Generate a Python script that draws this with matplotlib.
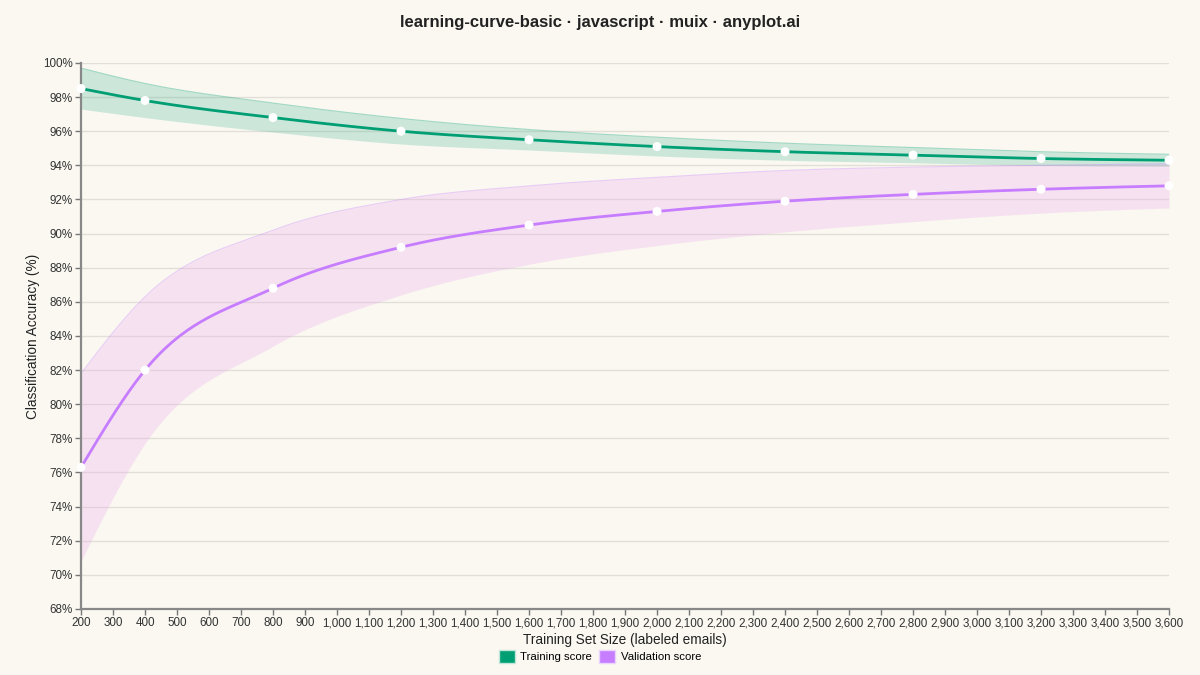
import matplotlib
matplotlib.use('Agg')
import matplotlib.pyplot as plt
from matplotlib.patches import Patch
from matplotlib.ticker import FuncFormatter, MultipleLocator
import numpy as np

# --- data ---
train_sizes = [200, 400, 800, 1200, 1600, 2000, 2400, 2800, 3200, 3600]
train_mean = [98.5, 97.8, 96.8, 96.0, 95.5, 95.1, 94.8, 94.6, 94.4, 94.3]
train_std = [1.2, 1.0, 0.85, 0.75, 0.6, 0.55, 0.5, 0.45, 0.4, 0.35]
val_mean = [76.3, 82.0, 86.8, 89.2, 90.5, 91.3, 91.9, 92.3, 92.6, 92.8]
val_std = [5.5, 4.3, 3.4, 2.8, 2.3, 2.0, 1.8, 1.6, 1.4, 1.3]

BG = '#FAF8F1'
GREEN = '#009E73'
PURPLE = '#C77DFF'
PURPLE_FILL = '#ECA0EE'


def monotone(x, y, n=500):
    # same tangents as d3 curveMonotoneX, only used for drawing the curves
    x = np.asarray(x, float)
    y = np.asarray(y, float)
    h = np.diff(x)
    d = np.diff(y) / h
    m = np.zeros_like(y)
    for i in range(1, len(y) - 1):
        p = (d[i - 1] * h[i] + d[i] * h[i - 1]) / (h[i - 1] + h[i])
        m[i] = (np.sign(d[i - 1]) + np.sign(d[i])) * min(abs(d[i - 1]), abs(d[i]), 0.5 * abs(p))
    m[0] = (3 * d[0] - m[1]) / 2
    m[-1] = (3 * d[-1] - m[-2]) / 2
    xs = np.linspace(x[0], x[-1], n)
    idx = np.clip(np.searchsorted(x, xs) - 1, 0, len(x) - 2)
    t = (xs - x[idx]) / h[idx]
    h00 = 2 * t**3 - 3 * t**2 + 1
    h10 = t**3 - 2 * t**2 + t
    h01 = -2 * t**3 + 3 * t**2
    h11 = t**3 - t**2
    ys = h00 * y[idx] + h10 * h[idx] * m[idx] + h01 * y[idx + 1] + h11 * h[idx] * m[idx + 1]
    return xs, ys


plt.rcParams['font.family'] = ['Liberation Sans', 'DejaVu Sans']

fig = plt.figure(figsize=(12, 6.75), dpi=100, facecolor=BG)
ax = fig.add_axes([0.0675, 0.0978, 0.9067, 0.8089], facecolor=BG)

tm, ts = np.array(train_mean), np.array(train_std)
vm, vs = np.array(val_mean), np.array(val_std)

for mean, std, color, fcolor, falpha in [(tm, ts, GREEN, GREEN, 0.18),
                                         (vm, vs, PURPLE, PURPLE_FILL, 0.25)]:
    xs, lo = monotone(train_sizes, mean - std)
    _, hi = monotone(train_sizes, mean + std)
    _, mid = monotone(train_sizes, mean)
    ax.fill_between(xs, lo, hi, color=fcolor, alpha=falpha, linewidth=0, zorder=2)
    ax.plot(xs, hi, color=color, alpha=0.35, linewidth=0.8, zorder=2)
    ax.plot(xs, mid, color=color, linewidth=2.0, zorder=3)
    ax.scatter(train_sizes, mean, s=42, color='white', edgecolors='none', zorder=4, clip_on=False)

ax.set_xlim(200, 3600)
ax.set_ylim(68, 100)
ax.xaxis.set_major_locator(MultipleLocator(100))
ax.yaxis.set_major_locator(MultipleLocator(2))
ax.xaxis.set_major_formatter(FuncFormatter(lambda v, p: f'{int(v):,}'))
ax.yaxis.set_major_formatter(FuncFormatter(lambda v, p: f'{int(v)}%'))
ax.tick_params(axis='both', labelsize=8.4, labelcolor='#333333', length=4, width=1,
               pad=2, color='#777777')

ax.grid(axis='y', color='#E2DFD8', linewidth=1)
ax.set_axisbelow(True)
for s in ['top', 'right']:
    ax.spines[s].set_visible(False)
for s in ['left', 'bottom']:
    ax.spines[s].set_color('#888888')
    ax.spines[s].set_linewidth(1.6)

ax.set_xlabel('Training Set Size (labeled emails)', fontsize=9.8, color='#222222')
ax.set_ylabel('Classification Accuracy (%)', fontsize=9.8, color='#222222')
ax.xaxis.set_label_coords(0.5, -0.044)
ax.yaxis.set_label_coords(-0.038, 0.5)

fig.suptitle('learning-curve-basic · javascript · muix · anyplot.ai',
             fontsize=12, fontweight='bold', color='#222222', y=0.978)

handles = [Patch(facecolor=GREEN, edgecolor='#bfe6d8', label='Training score'),
           Patch(facecolor=PURPLE, edgecolor='#ead3ff', label='Validation score')]
fig.legend(handles=handles, loc='center', bbox_to_anchor=(0.5, 0.028), ncol=2,
           frameon=False, fontsize=8.2, handlelength=1.4, handleheight=1.4,
           handletextpad=0.5, columnspacing=0.6)

fig.savefig('out.png', dpi=100, facecolor=BG)
